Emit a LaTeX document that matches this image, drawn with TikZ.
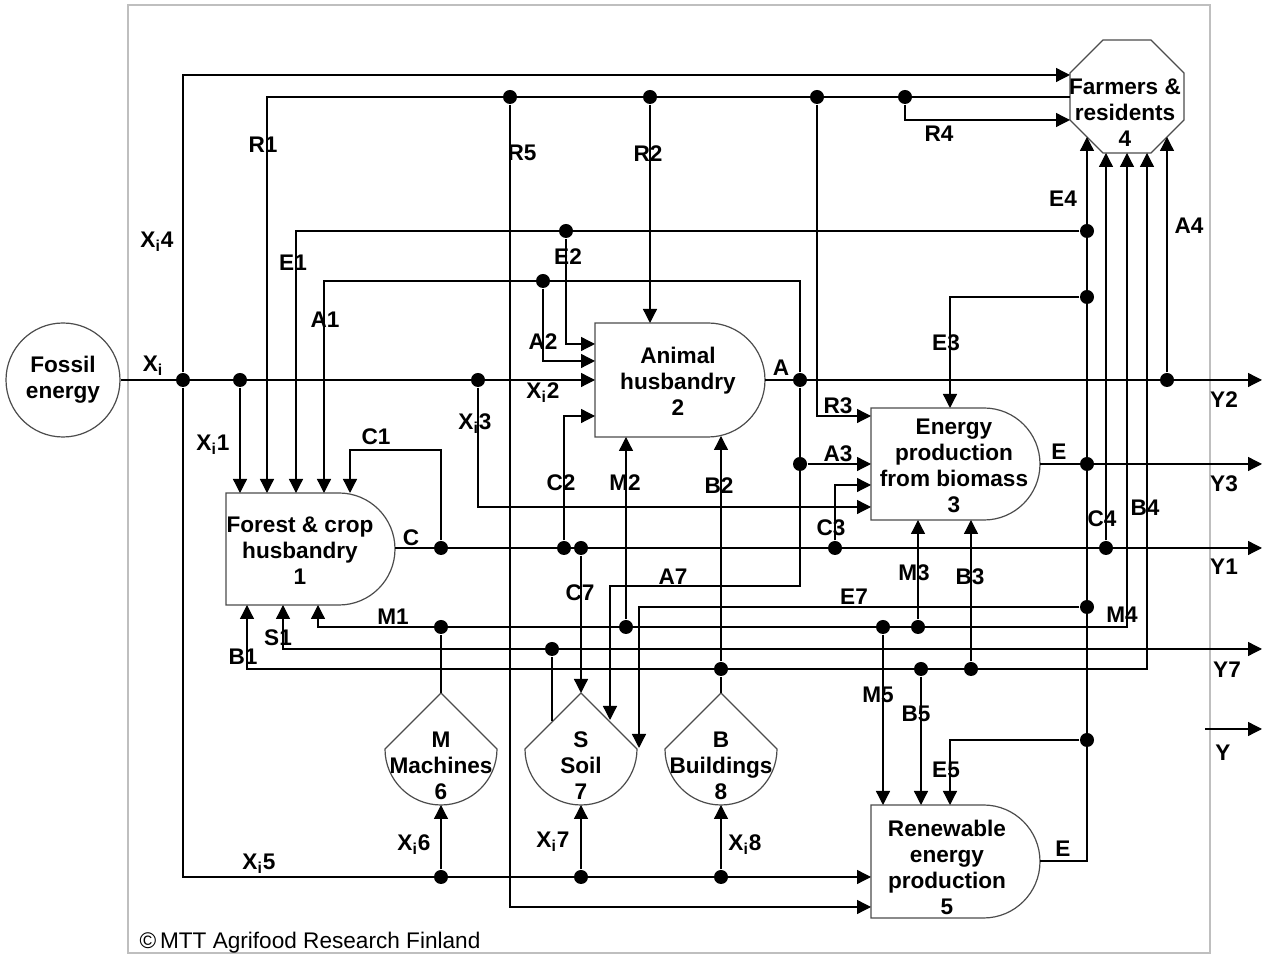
\documentclass[tikz,border=0pt]{standalone}
\usepackage{fontspec}
\setmainfont{Liberation Sans}
\usetikzlibrary{arrows.meta}
\newcommand{\Xsub}{X\textsubscript{i}}
\begin{document}
\begin{tikzpicture}[x=0.5pt,y=-0.5pt,line width=0.65pt,
 every node/.style={font=\bfseries\fontsize{11.3}{13}\selectfont},
 arr/.style={-{Triangle[length=7pt,width=7pt]}},
 arrb/.style={{Triangle[length=7pt,width=7pt]}-{Triangle[length=7pt,width=7pt]}},
 jd/.style={circle,fill=black,inner sep=0pt,minimum size=7pt},
 lb/.style={inner sep=0pt},
 shp/.style={draw=black!70,line width=0.6pt},
 txt/.style={align=center,inner sep=0pt}]

\useasboundingbox (0,0) rectangle (1266,956);
\fill[white] (0,0) rectangle (1266,956);
\draw[black!25,line width=0.6pt] (128,5) rectangle (1210,953);

% ---- shapes ----
\draw[shp] (226,493) -- (339,493) .. controls (369.9,493) and (395,518.1) .. (395,549) .. controls (395,579.9) and (369.9,605) .. (339,605) -- (226,605) -- cycle;
\draw[shp] (595,323) -- (708,323) .. controls (739.5,323) and (765,348.5) .. (765,380) .. controls (765,411.5) and (739.5,437) .. (708,437) -- (595,437) -- cycle;
\draw[shp] (871,408) -- (984,408) .. controls (1014.9,408) and (1040,433.1) .. (1040,464) .. controls (1040,494.9) and (1014.9,520) .. (984,520) -- (871,520) -- cycle;
\draw[shp] (871,805) -- (983.5,805) .. controls (1014.7,805) and (1040,830.3) .. (1040,861.5) .. controls (1040,892.7) and (1014.7,918) .. (983.5,918) -- (871,918) -- cycle;
\draw[shp] (385,749) -- (441,693) -- (497,749) .. controls (497,779.9) and (471.9,805) .. (441,805) .. controls (410.1,805) and (385,779.9) .. (385,749) -- cycle;
\draw[shp] (525,749) -- (581,693) -- (637,749) .. controls (637,779.9) and (611.9,805) .. (581,805) .. controls (550.1,805) and (525,779.9) .. (525,749) -- cycle;
\draw[shp] (665,749) -- (721,693) -- (777,749) .. controls (777,779.9) and (751.9,805) .. (721,805) .. controls (690.1,805) and (665,779.9) .. (665,749) -- cycle;
\draw[shp] (1103,40) -- (1151,40) -- (1184,73) -- (1184,120) -- (1151,153) -- (1103,153) -- (1070,120) -- (1070,73) -- cycle;

% ---- text nodes ----
\node[circle,draw=black!70,line width=0.6pt,minimum size=57pt,txt] (fossil) at (63,380) {Fossil\\energy};
\node[txt] (forest) at (300,551) {Forest \& crop\\husbandry\\1};
\node[txt] (animal) at (678,381) {Animal\\husbandry\\2};
\node[txt] (energy) at (954,466) {Energy\\production\\from biomass\\3};
\node[txt] (renew) at (947,867) {Renewable\\energy\\production\\5};
\node[txt] (farm) at (1125,113) {Farmers \&\\residents\\4};
\node[txt] (mach) at (441,766) {M\\Machines\\6};
\node[txt] (soil) at (581,766) {S\\Soil\\7};
\node[txt] (build) at (721,766) {B\\Buildings\\8};

% ---- ports ----
\coordinate (fo1) at (240,493); \coordinate (fo2) at (267,493); \coordinate (fo3) at (296,493);
\coordinate (fo4) at (324,493); \coordinate (fo5) at (350,493);
\coordinate (fob1) at (247,605); \coordinate (fob2) at (283,605); \coordinate (fob3) at (318,605);
\coordinate (foE) at (395,548);
\coordinate (an1) at (595,344); \coordinate (an2) at (595,361); \coordinate (an3) at (595,380);
\coordinate (an4) at (595,416); \coordinate (anT) at (650,323);
\coordinate (anb1) at (626,437); \coordinate (anb2) at (721,436); \coordinate (anE) at (765,380);
\coordinate (en1) at (871,416); \coordinate (en2) at (871,464); \coordinate (en3) at (871,485);
\coordinate (en4) at (871,507); \coordinate (enT) at (950,408);
\coordinate (enb1) at (918,520); \coordinate (enb2) at (971,520); \coordinate (enE) at (1040,464);
\coordinate (re1) at (871,877); \coordinate (re2) at (871,907);
\coordinate (reT1) at (883,805); \coordinate (reT2) at (921,805); \coordinate (reT3) at (950,805);
\coordinate (reE) at (1040,861);
\coordinate (fa1) at (1070,75); \coordinate (fa2) at (1070,97); \coordinate (fa3) at (1070,120);
\coordinate (fab1) at (1087,137); \coordinate (fab2) at (1106,153); \coordinate (fab3) at (1127,153);
\coordinate (fab4) at (1147,153); \coordinate (fab5) at (1167,137);
\coordinate (maT) at (441,693); \coordinate (maB) at (441,805);
\coordinate (soT) at (581,693); \coordinate (soL) at (552,721); \coordinate (soR1) at (610,720);
\coordinate (soR2) at (639,748); \coordinate (soB) at (581,805);
\coordinate (buT) at (721,693); \coordinate (buB) at (721,805);
\coordinate (y2) at (1262,380); \coordinate (y3) at (1262,464); \coordinate (y1) at (1262,548);
\coordinate (y7) at (1262,649); \coordinate (yl0) at (1205,729); \coordinate (yl) at (1262,729);
\coordinate (c1c) at (441,450); \coordinate (a7c) at (800,586);
\coordinate (m4c) at (1127,627); \coordinate (b4c) at (1147,669);

% ---- junction dots ----
\node[jd] (d1) at (183,380) {}; \node[jd] (d2) at (240,380) {}; \node[jd] (d3) at (478,380) {};
\node[jd] (dR5) at (510,97) {}; \node[jd] (dR2) at (650,97) {}; \node[jd] (dR3) at (817,97) {};
\node[jd] (dR4) at (905,97) {};
\node[jd] (dE2) at (566,231) {}; \node[jd] (dE4) at (1087,231) {};
\node[jd] (dA2) at (543,281) {}; \node[jd] (dE3) at (1087,297) {};
\node[jd] (dA) at (800,380) {}; \node[jd] (dA4) at (1167,380) {};
\node[jd] (dA3) at (800,464) {}; \node[jd] (dE) at (1087,464) {};
\node[jd] (dC1) at (441,548) {}; \node[jd] (dC2) at (564,548) {}; \node[jd] (dC7) at (581,548) {};
\node[jd] (dC3) at (835,548) {}; \node[jd] (dC4) at (1106,548) {};
\node[jd] (dE7) at (1087,607) {};
\node[jd] (dM) at (441,627) {}; \node[jd] (dM2) at (626,627) {}; \node[jd] (dM5) at (883,627) {};
\node[jd] (dM3) at (918,627) {};
\node[jd] (dS) at (552,649) {};
\node[jd] (dB2) at (721,669) {}; \node[jd] (dB5) at (921,669) {}; \node[jd] (dB3) at (971,669) {};
\node[jd] (dE5) at (1087,740) {};
\node[jd] (dX6) at (441,877) {}; \node[jd] (dX7) at (581,877) {}; \node[jd] (dX8) at (721,877) {};

% ---- connectors ----
\draw[arr] (fossil.east) -- (an3);
\draw[arr] (d1) |- (fa1);
\draw[arr] (d1) |- (re1);
\draw[arr] (d2) -- (fo1);
\draw[arr] (fa2) -| (fo2);
\draw[arr] (dR5) |- (re2);
\draw[arr] (dR2) -- (anT);
\draw[arr] (dR3) |- (en1);
\draw[arr] (dR4) |- (fa3);
\draw[arr] (dE4) -| (fo3);
\draw[arr] (dE2) |- (an1);
\draw[arr] (dA) -- (dA |- dA2) -| (fo4);
\draw[arr] (dA2) |- (an2);
\draw[arr] (anE) -- (y2);
\draw[arr] (dA4) -- (fab5);
\draw[arr] (dA3) -- (en2);
\draw[arr] (dE3) -| (enT);
\draw[arr] (reE) -| (fab1);
\draw[arr] (enE) -- (y3);
\draw[arr] (foE) -- (y1);
\draw[arr] (dC1) -- (c1c) -| (fo5);
\draw[arr] (dC2) |- (an4);
\draw[arr] (dC7) -- (soT);
\draw[arr] (dC3) |- (en3);
\draw[arr] (dC4) -- (fab2);
\draw[arr] (d3) |- (en4);
\draw[arr] (dM2) -- (anb1);
\draw[arr] (dB2) -- (anb2);
\draw[arr] (dE7) -| (soR2);
\draw[arr] (dA) -- (a7c) -| (soR1);
\draw[arrb] (fob3) |- (m4c) -- (fab3);
\draw (maT) -- (dM);
\draw[arr] (dM5) -- (reT1);
\draw[arr] (dM3) -- (enb1);
\draw[arrb] (fob2) |- (y7);
\draw (soL) -- (dS);
\draw[arrb] (fob1) |- (b4c) -- (fab4);
\draw (buT) -- (dB2);
\draw[arr] (dB5) -- (reT2);
\draw[arr] (dB3) -- (enb2);
\draw[arr] (dE5) -| (reT3);
\draw[arr] (dX6) -- (maB);
\draw[arr] (dX7) -- (soB);
\draw[arr] (dX8) -- (buB);
\draw[arr] (yl0) -- (yl);

% ---- labels ----
\node[lb] (lR1) at (263,145) {R1};
\node[lb] (lR5) at (522,153) {R5};
\node[lb] (lR2) at (648,154) {R2};
\node[lb] (lR4) at (939,134) {R4};
\node[lb] (lE4) at (1063,199) {E4};
\node[lb] (lA4) at (1189,226) {A4};
\node[lb] (lX4) at (157,242) {\Xsub4};
\node[lb] (lE1) at (293,263) {E1};
\node[lb] (lE2) at (568,257) {E2};
\node[lb] (lA1) at (325,320) {A1};
\node[lb] (lX) at (153,366) {\Xsub};
\node[lb] (lA2) at (543,342) {A2};
\node[lb] (lX2) at (543,393) {\Xsub2};
\node[lb] (lX3) at (475,424) {\Xsub3};
\node[lb] (lX1) at (213,445) {\Xsub1};
\node[lb] (lC1) at (376,437) {C1};
\node[lb] (lC) at (411,538) {C};
\node[lb] (lC2) at (561,483) {C2};
\node[lb] (lM2) at (625,483) {M2};
\node[lb] (lC7) at (580,593) {C7};
\node[lb] (lM1) at (393,617) {M1};
\node[lb] (lA) at (781,368) {A};
\node[lb] (lE3) at (946,343) {E3};
\node[lb] (lR3) at (838,406) {R3};
\node[lb] (lA3) at (838,454) {A3};
\node[lb] (lB2) at (719,486) {B2};
\node[lb] (lE) at (1059,452) {E};
\node[lb] (lC3) at (831,528) {C3};
\node[lb] (lY2) at (1224,400) {Y2};
\node[lb] (lY3) at (1224,484) {Y3};
\node[lb] (lC4) at (1102,519) {C4};
\node[lb] (lB4) at (1145,508) {B4};
\node[lb] (lY1) at (1224,567) {Y1};
\node[lb] (lA7) at (673,577) {A7};
\node[lb] (lM3) at (914,573) {M3};
\node[lb] (lB3) at (970,577) {B3};
\node[lb] (lE7) at (854,597) {E7};
\node[lb] (lM4) at (1122,615) {M4};
\node[lb] (lS1) at (278,638) {S1};
\node[lb] (lB1) at (243,657) {B1};
\node[lb] (lX5) at (259,864) {\Xsub5};
\node[lb] (lX6) at (414,845) {\Xsub6};
\node[lb] (lX7) at (553,842) {\Xsub7};
\node[lb] (lX8) at (745,845) {\Xsub8};
\node[lb] (lY7) at (1227,670) {Y7};
\node[lb] (lM5) at (878,695) {M5};
\node[lb] (lB5) at (916,714) {B5};
\node[lb] (lY) at (1223,753) {Y};
\node[lb] (lE5) at (946,770) {E5};
\node[lb] (lEr) at (1063,849) {E};
\node[lb,anchor=west,font=\fontsize{11.3}{13}\selectfont] (copy) at (139,943) {\textcopyright\,MTT Agrifood Research Finland};
\end{tikzpicture}
\end{document}
